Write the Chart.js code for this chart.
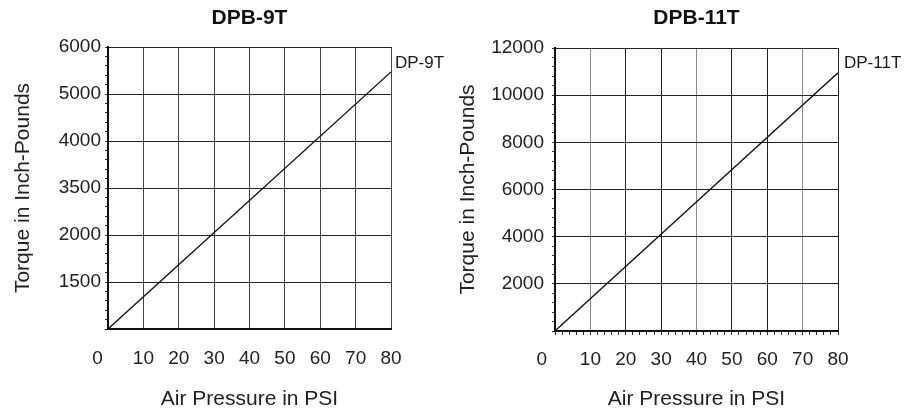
<!DOCTYPE html>
<html>
<head>
<meta charset="utf-8">
<script src="https://cdn.jsdelivr.net/npm/chart.js@4.4.1/dist/chart.umd.min.js"></script>
<style>
    body { margin: 0; background: #fff; }
    .panel { position: absolute; top: 0; width: 453px; height: 412px; }
    #left-panel { left: 0; }
    #right-panel { left: 454px; }
</style>
</head>
<body>
<div class="panel" id="left-panel"><canvas id="chart9T" width="453" height="412"></canvas></div>
<div class="panel" id="right-panel"><canvas id="chart11T" width="453" height="412"></canvas></div>
<script>
// air pressure (PSI) at the two ends of each straight line
const pressurePsi = [0, 80];

// DPB-9T: the grid is evenly spaced but the printed labels are not,
// so values are read on the even grid (one row = 1000)
const torque9T = [0, 5470];
const yLabels9T = ['', '1500', '2000', '3500', '4000', '5000', '6000'];

// DPB-11T
const torque11T = [0, 10950];
const yLabels11T = ['', '2000', '4000', '6000', '8000', '10000', '12000'];

const xLabels = ['0', '10', '20', '30', '40', '50', '60', '70', '80'];

const FONT = "'Liberation Sans', Arial, sans-serif";

// writes the series name just right of the last point of the line
const endLabelPlugin = {
    id: 'endLabel',
    afterDatasetsDraw(chart, args, opts) {
        const meta = chart.getDatasetMeta(0);
        const last = meta.data[meta.data.length - 1];
        const ctx = chart.ctx;
        ctx.save();
        ctx.font = '17px ' + FONT;
        ctx.fillStyle = '#1a1a1a';
        ctx.textAlign = 'left';
        ctx.textBaseline = 'middle';
        ctx.fillText(chart.data.datasets[0].label, last.x + opts.dx, last.y - 9);
        ctx.restore();
    }
};

function make_chart(canvasId, cfg) {
    const ctx = document.getElementById(canvasId).getContext('2d');
    return new Chart(ctx, {
        type: 'line',
        data: {
            datasets: [{
                label: cfg.seriesName,
                data: pressurePsi.map((p, i) => ({ x: p, y: cfg.torque[i] })),
                borderColor: '#111',
                borderWidth: 1.3,
                pointRadius: 0,
                tension: 0
            }]
        },
        options: {
            responsive: false,
            animation: false,
            layout: { padding: { left: 0, right: cfg.padRight, top: 0, bottom: 0 } },
            plugins: {
                legend: { display: false },
                tooltip: { enabled: false },
                title: {
                    display: true,
                    fullSize: false, // centre over the plot, not the canvas
                    text: cfg.title,
                    color: '#111',
                    font: { family: FONT, size: 21, weight: 'bold' },
                    padding: { top: 6, bottom: cfg.plotTop - 31.2 }
                },
                endLabel: { dx: cfg.labelDx }
            },
            scales: {
                x: {
                    type: 'linear',
                    min: 0,
                    max: 80,
                    afterFit: function (scale) { scale.height = cfg.xAxisHeight; },
                    border: { color: '#111', width: 2 },
                    grid: {
                        color: function (c) {
                            if (c.tick.value % 10 !== 0) return 'rgba(0,0,0,0)';
                            return cfg.vGridColor(c.tick.value);
                        },
                        tickColor: cfg.xTickColor,
                        tickLength: 4
                    },
                    ticks: {
                        stepSize: cfg.xStep,
                        autoSkip: false,
                        maxRotation: 0,
                        padding: cfg.xTickPad,
                        color: '#222',
                        font: { family: FONT, size: 19 },
                        callback: function (value) {
                            if (value % 10 !== 0) return '';
                            const label = xLabels[value / 10];
                            // the zero sits left of the corner in the original
                            return value === 0 ? label + cfg.zeroShift : label;
                        }
                    },
                    title: {
                        display: true,
                        text: 'Air Pressure in PSI',
                        color: '#222',
                        font: { family: FONT, size: 21 },
                        padding: { top: 0, bottom: 0 }
                    }
                },
                y: {
                    type: 'linear',
                    min: 0,
                    max: cfg.yMax,
                    afterFit: function (scale) { scale.width = cfg.yAxisWidth; },
                    border: { color: '#111', width: 2 },
                    grid: {
                        color: function (c) {
                            return c.tick.value % cfg.yMajor === 0 ? '#222' : 'rgba(0,0,0,0)';
                        },
                        tickColor: '#333',
                        tickLength: 3
                    },
                    ticks: {
                        stepSize: cfg.yMajor / 5,
                        autoSkip: false,
                        padding: cfg.yTickPad,
                        color: '#222',
                        font: { family: FONT, size: 19 },
                        callback: function (value) {
                            if (value % cfg.yMajor !== 0) return '';
                            return cfg.yLabels[value / cfg.yMajor];
                        }
                    },
                    title: {
                        display: true,
                        text: 'Torque in Inch-Pounds',
                        color: '#222',
                        font: { family: FONT, size: 21 },
                        padding: { top: cfg.yTitlePad, bottom: 0 }
                    }
                }
            }
        },
        plugins: [endLabelPlugin]
    });
}

make_chart('chart9T', {
    title: 'DPB-9T',
    seriesName: 'DP-9T',
    torque: torque9T,
    yLabels: yLabels9T,
    yMax: 6000,
    yMajor: 1000,
    xStep: 10,
    xTickColor: 'rgba(0,0,0,0)',
    vGridColor: function (v) { return '#444'; },
    plotTop: 47,
    padRight: 62,
    yAxisWidth: 108,
    xAxisHeight: 83,
    xTickPad: 14,
    yTickPad: 4,
    yTitlePad: 11,
    zeroShift: '    ',
    labelDx: 4
});

make_chart('chart11T', {
    title: 'DPB-11T',
    seriesName: 'DP-11T',
    torque: torque11T,
    yLabels: yLabels11T,
    yMax: 12000,
    yMajor: 2000,
    xStep: 2,
    xTickColor: '#333',
    vGridColor: function (v) { return [10, 40, 70].includes(v) ? '#8a8a8a' : '#222'; },
    plotTop: 48,
    padRight: 69,
    yAxisWidth: 101,
    xAxisHeight: 81,
    xTickPad: 13,
    yTickPad: 8,
    yTitlePad: 2,
    zeroShift: '     ',
    labelDx: 6
});
</script>
</body>
</html>
